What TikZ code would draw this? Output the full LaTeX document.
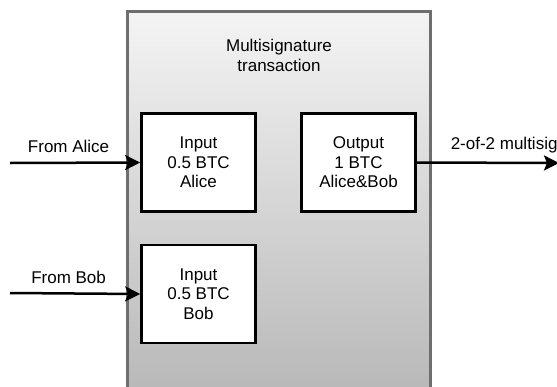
\documentclass[tikz,border=0pt]{standalone}
\usepackage{fontspec}
\setmainfont{Liberation Sans}
\usetikzlibrary{arrows.meta}
\definecolor{frameGray}{HTML}{6E6E6E}
\definecolor{shadeTop}{HTML}{F4F4F4}
\definecolor{shadeBottom}{HTML}{B2B2B2}
\tikzset{
  txframe/.style={draw=frameGray, line width=3pt, top color=shadeTop, bottom color=shadeBottom,
    minimum width=303pt, minimum height=420pt, inner sep=0pt},
  coinbox/.style={draw=black, line width=2.6pt, fill=white, minimum width=114pt,
    minimum height=98pt, align=center, inner sep=0pt,
    font=\fontsize{17}{19.5}\selectfont},
  flow/.style={line width=2.5pt, -{Stealth[length=15pt, width=15pt, inset=3pt]}},
  flowlabel/.style={font=\fontsize{17}{20}\selectfont, inner sep=0pt},
}
\begin{document}
\begin{tikzpicture}[x=1pt, y=-1pt]
  \clip (0,0) rectangle (557,386);
  \fill[white] (0,0) rectangle (557,386);
  % transaction frame, running past the lower edge
  \node[txframe] (tx) at (279, 221.5) {};
  \node[align=center, font=\fontsize{17}{20}\selectfont] (title) at (279, 55) {Multisignature\\transaction};
  % inputs and output
  \node[coinbox] (inA) at (198.5, 162.5) {Input\\0.5 BTC\\Alice};
  \node[coinbox] (inB) at (198.5, 294) {Input\\0.5 BTC\\Bob};
  \node[coinbox] (out) at (358.5, 162.5) {Output\\1 BTC\\Alice\&Bob};
  % free ends of the arrows
  \coordinate (srcA) at (10, 163);
  \coordinate (srcB) at (10, 293);
  \coordinate (dst) at (559, 163);
  \draw[flow] (srcA) -- (inA.west) node[flowlabel, pos=0.45, above=9pt] {From Alice};
  \draw[flow] (srcB) -- (inB.west) node[flowlabel, pos=0.45, above=9pt] {From Bob};
  \draw[flow] (out.east) -- (dst) node[flowlabel, pos=0.23, anchor=south west, yshift=8pt] {2-of-2 multisig};
\end{tikzpicture}
\end{document}
